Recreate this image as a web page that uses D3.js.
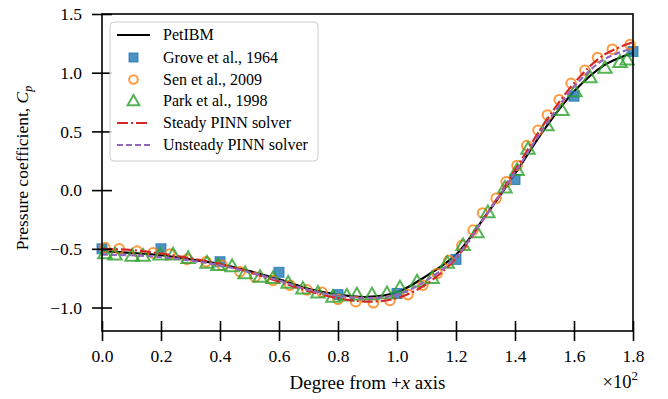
<!DOCTYPE html>
<head>
<meta charset="utf-8">
<script src="https://d3js.org/d3.v7.min.js"></script>
<style>
	body { margin: 0; background: #fff; }
	svg text { font-family: "Liberation Serif", "Times New Roman", serif; }
</style>
</head>
<body>
<svg width="668" height="399"></svg>
<script>
	// solver curves, sampled every 10 degrees
	var deg = [0, 10, 20, 30, 40, 50, 60, 70, 80, 90, 100, 110, 120, 130, 140, 150, 160, 170, 180];
	var petibm = [-0.52, -0.535, -0.555, -0.59, -0.63, -0.69, -0.76, -0.84, -0.89, -0.91, -0.87, -0.73, -0.55, -0.22, 0.14, 0.52, 0.84, 1.06, 1.17];
	var steady = [-0.50, -0.51, -0.54, -0.58, -0.63, -0.70, -0.78, -0.86, -0.92, -0.95, -0.92, -0.80, -0.58, -0.22, 0.17, 0.57, 0.91, 1.15, 1.26];
	var unsteady = [-0.55, -0.555, -0.57, -0.60, -0.64, -0.70, -0.77, -0.85, -0.90, -0.92, -0.89, -0.77, -0.57, -0.22, 0.15, 0.54, 0.88, 1.11, 1.21];

	// experimental / reference data
	var groveDeg = [0, 20, 40, 60, 80, 100, 120, 140, 160, 180];
	var groveCp = [-0.50, -0.50, -0.61, -0.70, -0.89, -0.88, -0.59, 0.09, 0.80, 1.18];

	var senDeg = [1, 5.8, 11.9, 17.3, 23, 28.8, 35.3, 40.7, 46.8, 51.9, 58, 63.7, 69.5, 74.6, 80, 86, 92, 97.6, 103.7, 108.8, 113.6, 117.6, 122, 125.8, 129, 133.6, 137, 140.7, 144, 147.8, 151, 155, 159, 163.7, 168, 173, 179];
	var senCp = [-0.49, -0.50, -0.52, -0.535, -0.545, -0.59, -0.61, -0.64, -0.695, -0.74, -0.77, -0.81, -0.85, -0.87, -0.93, -0.95, -0.96, -0.94, -0.89, -0.81, -0.71, -0.60, -0.47, -0.34, -0.195, -0.07, 0.07, 0.21, 0.38, 0.51, 0.64, 0.77, 0.91, 1.02, 1.13, 1.20, 1.24];

	var parkDeg = [1, 4.4, 10.2, 13.9, 19.7, 24.1, 29.2, 35.6, 39.3, 44.1, 48.5, 53.6, 58, 63.1, 68.1, 73.2, 78.3, 83, 86.4, 91.5, 96.6, 101, 106.8, 111.9, 117, 122.4, 127.1, 130.8, 136.6, 140.7, 144.4, 150.8, 155.9, 160.3, 165.4, 170.5, 175.6, 178];
	var parkCp = [-0.54, -0.55, -0.56, -0.56, -0.55, -0.55, -0.58, -0.62, -0.64, -0.65, -0.71, -0.74, -0.75, -0.79, -0.84, -0.875, -0.91, -0.90, -0.89, -0.89, -0.88, -0.83, -0.78, -0.75, -0.62, -0.47, -0.36, -0.19, 0.02, 0.17, 0.35, 0.55, 0.68, 0.84, 0.96, 1.04, 1.09, 1.11];

	var xTicks = [0, 20, 40, 60, 80, 100, 120, 140, 160, 180];
	var yTicks = [-1.0, -0.5, 0.0, 0.5, 1.0, 1.5];

	var legendLabels = ['PetIBM', 'Grove et al., 1964', 'Sen et al., 2009', 'Park et al., 1998', 'Steady PINN solver', 'Unsteady PINN solver'];

	var serif = '"Liberation Serif", "Times New Roman", serif';
	var pL = 102, pR = 633, pT = 14, pB = 331;
	var svg = d3.select('svg');

	var x = d3.scaleLinear().domain([0, 180]).range([pL, pR]);
	var y = d3.scaleLinear().domain([-1.2, 1.5]).range([pB, pT]);

	var blue = '#1f77b4', orange = '#ff7f0e', green = '#2ca02c', red = '#d62728', purple = '#9467bd';
	var sq = 10, cr = 4.8, mw = 2;

	var plot = svg.append('g');

	var line = d3.line()
		.x(function (d) { return x(d[0]); })
		.y(function (d) { return y(d[1]); })
		.curve(d3.curveCatmullRom);

	function pairs(a, b) {
		return a.map(function (d, i) { return [d, b[i]]; });
	}

	var triPath = d3.symbol().type(d3.symbolTriangle).size(78);

	// PetIBM
	plot.append('path')
		.datum(pairs(deg, petibm))
		.attr('fill', 'none')
		.attr('stroke', '#000')
		.attr('stroke-width', 2.2)
		.attr('d', line);

	// Grove squares
	plot.selectAll('rect.grove').data(pairs(groveDeg, groveCp)).enter()
		.append('rect')
		.attr('class', 'grove')
		.attr('x', function (d) { return x(d[0]) - sq / 2; })
		.attr('y', function (d) { return y(d[1]) - sq / 2; })
		.attr('width', sq).attr('height', sq)
		.attr('fill', blue)
		.attr('fill-opacity', 0.8)
		.attr('stroke', blue)
		.attr('stroke-opacity', 0.8)
		.attr('stroke-width', 1);

	// Sen circles
	plot.selectAll('circle.sen').data(pairs(senDeg, senCp)).enter()
		.append('circle')
		.attr('class', 'sen')
		.attr('cx', function (d) { return x(d[0]); })
		.attr('cy', function (d) { return y(d[1]); })
		.attr('r', cr)
		.attr('fill', 'none')
		.attr('stroke', orange)
		.attr('stroke-opacity', 0.8)
		.attr('stroke-width', mw);

	// Park triangles
	plot.selectAll('path.park').data(pairs(parkDeg, parkCp)).enter()
		.append('path')
		.attr('class', 'park')
		.attr('transform', function (d) { return 'translate(' + x(d[0]) + ',' + (y(d[1]) + 0.9) + ')'; })
		.attr('d', triPath)
		.attr('fill', 'none')
		.attr('stroke', green)
		.attr('stroke-opacity', 0.8)
		.attr('stroke-width', mw);

	// steady PINN
	plot.append('path')
		.datum(pairs(deg, steady))
		.attr('fill', 'none')
		.attr('stroke', red)
		.attr('stroke-width', 2.2)
		.attr('stroke-dasharray', '11,3,2,3')
		.attr('d', line);

	// unsteady PINN
	plot.append('path')
		.datum(pairs(deg, unsteady))
		.attr('fill', 'none')
		.attr('stroke', purple)
		.attr('stroke-width', 2.2)
		.attr('stroke-dasharray', '6,3')
		.attr('d', line);

	/* ---------- axes ---------- */

	var xAxis = svg.append('g')
		.attr('transform', 'translate(0,' + pB + ')')
		.call(d3.axisBottom(x).tickValues(xTicks).tickSize(10).tickSizeOuter(0).tickPadding(9)
			.tickFormat(function (d) { return (d / 100).toFixed(1); }));

	var yAxis = svg.append('g')
		.attr('transform', 'translate(' + pL + ',0)')
		.call(d3.axisLeft(y).tickValues(yTicks).tickSize(10).tickSizeOuter(0).tickPadding(10)
			.tickFormat(d3.format('.1f')));

	[xAxis, yAxis].forEach(function (a) {
		a.attr('font-family', serif).attr('font-size', 17.5);
		a.select('.domain').remove();
		a.selectAll('.tick line').attr('stroke', '#000').attr('stroke-width', 1.6);
		a.selectAll('.tick text').attr('fill', '#000');
	});
	xAxis.selectAll('.tick line').attr('y1', -10);
	yAxis.selectAll('.tick line').attr('x1', 10);

	svg.append('rect')
		.attr('x', pL).attr('y', pT)
		.attr('width', pR - pL).attr('height', pB - pT)
		.attr('fill', 'none')
		.attr('stroke', '#000')
		.attr('stroke-width', 1.6);

	// axis labels
	var xl = svg.append('text')
		.attr('x', (pL + pR) / 2).attr('y', 389)
		.attr('text-anchor', 'middle')
		.attr('font-family', serif)
		.attr('font-size', 19);
	xl.append('tspan').text('Degree from ');
	xl.append('tspan').text('+');
	xl.append('tspan').attr('font-style', 'italic').text('x');
	xl.append('tspan').text(' axis');

	var mult = svg.append('text')
		.attr('x', 638).attr('y', 388)
		.attr('text-anchor', 'end')
		.attr('font-family', serif)
		.attr('font-size', 18.5);
	mult.append('tspan').text('\u00d710');
	mult.append('tspan').attr('dy', -8).attr('font-size', 13).text('2');

	var yl = svg.append('text')
		.attr('transform', 'translate(28,168) rotate(-90)')
		.attr('text-anchor', 'middle')
		.attr('font-family', serif)
		.attr('font-size', 17.5);
	yl.append('tspan').text('Pressure coefficient, ');
	yl.append('tspan').attr('font-style', 'italic').text('C');
	yl.append('tspan').attr('font-style', 'italic').attr('font-size', 12).attr('dy', 4).text('p');

	/* ---------- legend ---------- */

	var lg = svg.append('g').attr('font-family', serif);
	lg.append('rect')
		.attr('x', 110).attr('y', 22)
		.attr('width', 208).attr('height', 139)
		.attr('rx', 4)
		.attr('fill', '#fff').attr('fill-opacity', 0.8)
		.attr('stroke', '#cccccc').attr('stroke-width', 1);

	var rowY = [35, 57.5, 79.5, 101, 123, 145];
	var lx0 = 117, lx1 = 150, lxm = 133.5;

	legendLabels.forEach(function (t, i) {
		lg.append('text')
			.attr('x', 163).attr('y', rowY[i])
			.attr('dy', '0.33em')
			.attr('font-size', 16)
			.text(t);
	});

	lg.append('line').attr('x1', lx0).attr('x2', lx1).attr('y1', rowY[0]).attr('y2', rowY[0])
		.attr('stroke', '#000').attr('stroke-width', 2.2);
	lg.append('rect').attr('x', lxm - 4.5).attr('y', rowY[1] - 4.5).attr('width', 9).attr('height', 9)
		.attr('fill', blue).attr('fill-opacity', 0.8).attr('stroke', blue).attr('stroke-opacity', 0.8);
	lg.append('circle').attr('cx', lxm).attr('cy', rowY[2]).attr('r', 4.3)
		.attr('fill', 'none').attr('stroke', orange).attr('stroke-opacity', 0.8).attr('stroke-width', mw);
	lg.append('path').attr('transform', 'translate(' + lxm + ',' + (rowY[3] + 0.8) + ')')
		.attr('d', d3.symbol().type(d3.symbolTriangle).size(60))
		.attr('fill', 'none').attr('stroke', green).attr('stroke-opacity', 0.8).attr('stroke-width', mw);
	lg.append('line').attr('x1', lx0).attr('x2', lx1).attr('y1', rowY[4]).attr('y2', rowY[4])
		.attr('stroke', red).attr('stroke-width', 2.2).attr('stroke-dasharray', '11,3,2,3');
	lg.append('line').attr('x1', lx0).attr('x2', lx1).attr('y1', rowY[5]).attr('y2', rowY[5])
		.attr('stroke', purple).attr('stroke-width', 2.2).attr('stroke-dasharray', '6,3');
</script>
</body>
